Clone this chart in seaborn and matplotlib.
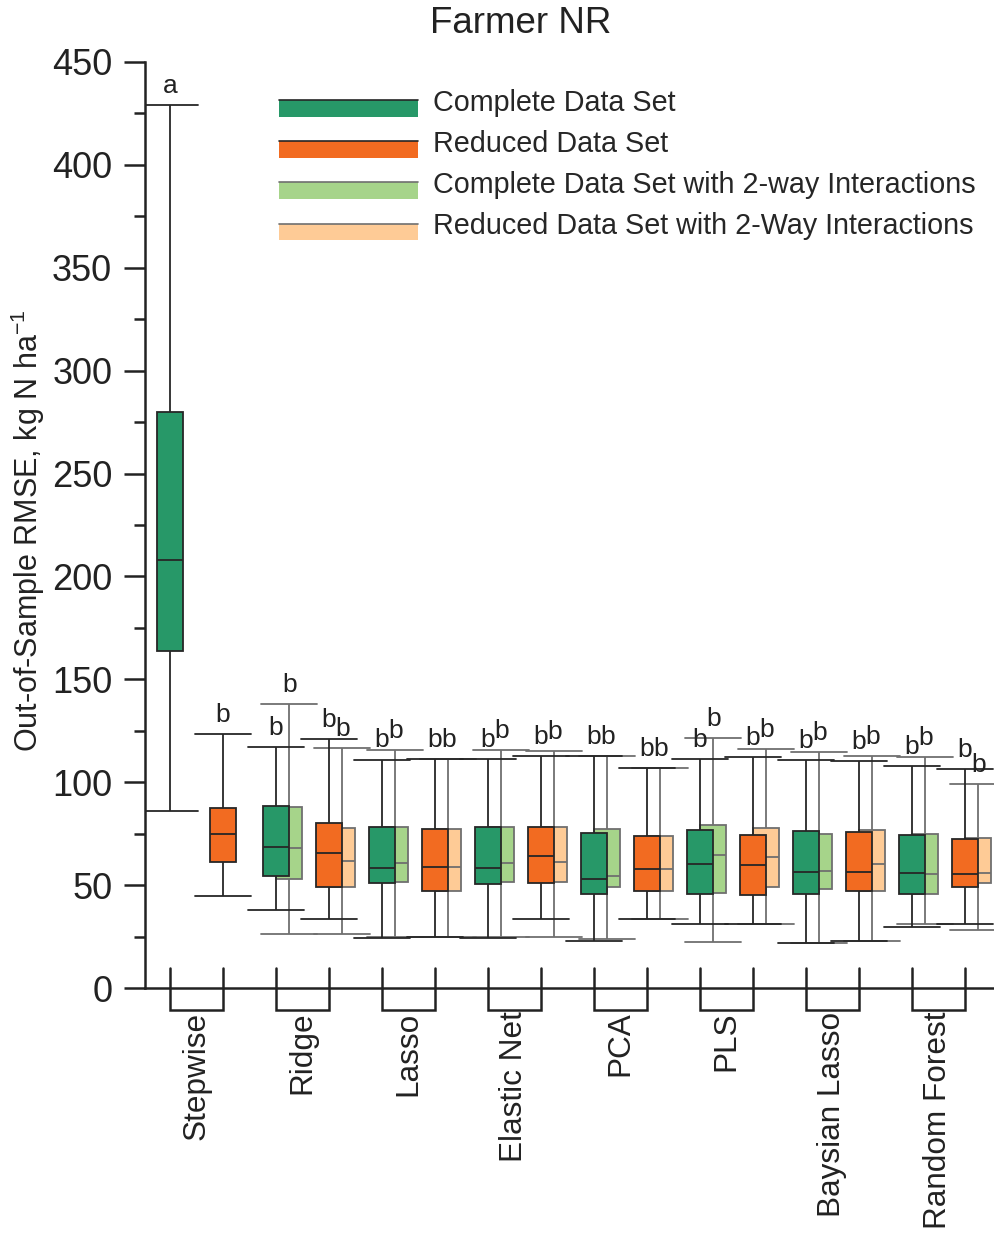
import numpy as np
import pandas as pd
import matplotlib
matplotlib.use("Agg")
import matplotlib.pyplot as plt
from matplotlib.ticker import MultipleLocator
from matplotlib.patches import Patch, Rectangle
from matplotlib.lines import Line2D
from matplotlib.legend_handler import HandlerBase
import seaborn as sns

# ---------------- data ----------------
methods = ["Stepwise", "Ridge", "Lasso", "Elastic Net", "PCA", "PLS",
           "Baysian Lasso", "Random Forest"]

# each entry: [lower whisker, Q1, median, Q3, upper whisker]
complete = [
    [86.0, 163.7, 208.0, 280.0, 429.0],
    [37.9, 54.4, 68.5, 88.4, 117.0],
    [24.3, 51.0, 58.3, 78.2, 111.0],
    [24.4, 50.7, 58.3, 78.2, 111.3],
    [22.8, 45.7, 52.9, 75.3, 112.7],
    [31.0, 45.8, 60.1, 76.9, 111.2],
    [21.8, 45.7, 56.4, 76.2, 110.7],
    [29.6, 45.7, 55.8, 74.4, 107.9],
]
reduced = [
    [44.7, 61.2, 74.8, 87.5, 123.4],
    [33.5, 49.1, 65.6, 80.2, 121.0],
    [24.8, 47.1, 58.8, 77.3, 111.3],
    [33.4, 50.9, 64.1, 78.3, 112.7],
    [33.4, 47.1, 57.8, 73.8, 106.7],
    [31.0, 45.2, 59.8, 74.4, 112.2],
    [22.8, 47.1, 56.4, 75.9, 110.3],
    [31.0, 49.1, 55.4, 72.4, 106.4],
]
complete_int = [
    None,
    [26.2, 53.0, 68.0, 88.0, 138.0],
    [24.7, 51.5, 60.7, 78.4, 115.6],
    [24.7, 51.5, 60.7, 78.2, 115.6],
    [23.8, 49.0, 54.4, 77.1, 112.7],
    [22.5, 46.3, 64.6, 79.2, 121.5],
    [21.8, 48.1, 56.9, 74.8, 114.7],
    [31.0, 45.7, 55.4, 74.8, 112.2],
]
reduced_int = [
    None,
    [26.2, 49.0, 61.7, 77.7, 116.6],
    [24.8, 47.0, 58.8, 77.3, 111.3],
    [24.8, 51.5, 61.2, 78.3, 115.2],
    [33.4, 47.1, 57.8, 73.8, 106.7],
    [31.0, 49.1, 63.7, 77.7, 116.2],
    [22.8, 47.1, 60.1, 76.8, 112.7],
    [28.2, 51.0, 55.8, 72.9, 99.1],
]
letters_complete = ["a", "b", "b", "b", "b", "b", "b", "b"]
letters_reduced = ["b", "b", "b", "b", "b", "b", "b", "b"]
letters_complete_int = [None, "b", "b", "b", "b", "b", "b", "b"]
letters_reduced_int = [None, "b", "b", "b", "b", "b", "b", "b"]

series_names = ["Complete Data Set", "Reduced Data Set",
                "Complete Data Set with 2-way Interactions",
                "Reduced Data Set with 2-Way Interactions"]
series_colors = ["#279868", "#F26B21", "#A6D48A", "#FECB96"]
series_edges = ["#262626", "#262626", "#6f6f6f", "#6f6f6f"]

# ---------------- style ----------------
sns.set_style("ticks")
plt.rcParams["font.family"] = ["Liberation Sans", "DejaVu Sans"]
plt.rcParams["mathtext.default"] = "regular"

W, H = 995, 1234
fig = plt.figure(figsize=(W / 100, H / 100), dpi=100)
ax = fig.add_axes([145 / W, 1 - 988 / H, 850 / W, 926 / H])

# draw order: interaction boxes first (behind), then main boxes
series = [
    (complete_int, letters_complete_int, 0.25, series_colors[2], series_edges[2], 1.0),
    (reduced_int, letters_reduced_int, 1.25, series_colors[3], series_edges[3], 1.0),
    (complete, letters_complete, 0.0, series_colors[0], series_edges[0], 3.0),
    (reduced, letters_reduced, 1.0, series_colors[1], series_edges[1], 3.0),
]

for vals, letters, offset, color, lc, z in series:
    rows = []
    for i, v in enumerate(vals):
        if v is None:
            continue
        for val in v:
            rows.append({"pos": 2 * i + offset, "rmse": val})
    df = pd.DataFrame(rows)
    sns.boxplot(data=df, x="pos", y="rmse", native_scale=True, width=0.25,
                whis=(0, 100), color=color, linecolor=lc, linewidth=1.3,
                saturation=1, showfliers=False, capwidths=1.05, zorder=z,
                ax=ax)
    for i, (v, let) in enumerate(zip(vals, letters)):
        if v is None or let is None:
            continue
        ax.text(2 * i + offset, v[4] + 3.5, let, ha="center", va="bottom",
                fontsize=19, color="#222222", zorder=6)

# bracket-style category marks
for i in range(len(methods)):
    x0, x1 = 2 * i, 2 * i + 1
    ax.plot([x0, x0, x1, x1], [9.7, -10.7, -10.7, 9.7], color="#222222",
            lw=1.8, clip_on=False, zorder=5, solid_joinstyle="miter")

ax.set_xlim((145 - 170) / 53, (995 - 170) / 53)
ax.set_ylim(0, 450)
ax.set_xticks([2 * i + 0.5 for i in range(len(methods))])
ax.set_xticklabels(methods, rotation=90)
ax.tick_params(axis="x", length=0, pad=17, labelsize=22.7, colors="#222222")
ax.set_yticks(np.arange(0, 451, 50))
ax.yaxis.set_minor_locator(MultipleLocator(25))
ax.tick_params(axis="y", which="major", length=15, width=1.8, pad=8.6,
               labelsize=26, direction="out", colors="#222222")
ax.tick_params(axis="y", which="minor", length=8, width=1.8,
               direction="out", color="#222222")
for s in ["top", "right"]:
    ax.spines[s].set_visible(False)
for s in ["left", "bottom"]:
    ax.spines[s].set_linewidth(1.8)
    ax.spines[s].set_color("#222222")
ax.set_xlabel("")
ax.set_ylabel("Out-of-Sample RMSE, kg N ha$^{-1}$", fontsize=22,
              color="#222222")
ax.yaxis.set_label_coords(-0.115, 0.494)

fig.text(521 / W, 1 - 33 / H, "Farmer NR", ha="center", va="baseline",
         fontsize=26.5, color="#222222")


class BoxLegendHandler(HandlerBase):
    """Filled band with a thin line on its top edge, set a little low."""

    def __init__(self, edge, **kw):
        super().__init__(**kw)
        self.edge = edge

    def create_artists(self, legend, orig_handle, xdescent, ydescent,
                       width, height, fontsize, trans):
        rect_h = 12.0
        y0 = -ydescent + (height - rect_h) / 2 - 5.5
        rect = Rectangle((-xdescent, y0), width, rect_h,
                         facecolor=orig_handle.get_facecolor(),
                         edgecolor="none", transform=trans)
        line = Line2D([-xdescent, -xdescent + width], [y0 + rect_h] * 2,
                      color=self.edge, lw=1.2, transform=trans)
        return [rect, line]


handles = [Patch(facecolor=c, edgecolor="none") for c in series_colors]
fig.legend(handles, series_names, loc="upper left",
           bbox_to_anchor=(279 / W, 1 - 89 / H), frameon=False,
           fontsize=20.7, handlelength=4.85, handleheight=0.75,
           handletextpad=0.5, labelspacing=0.455, borderpad=0,
           borderaxespad=0,
           handler_map={h: BoxLegendHandler(e)
                        for h, e in zip(handles, series_edges)})

fig.savefig("out.png", dpi=100)
